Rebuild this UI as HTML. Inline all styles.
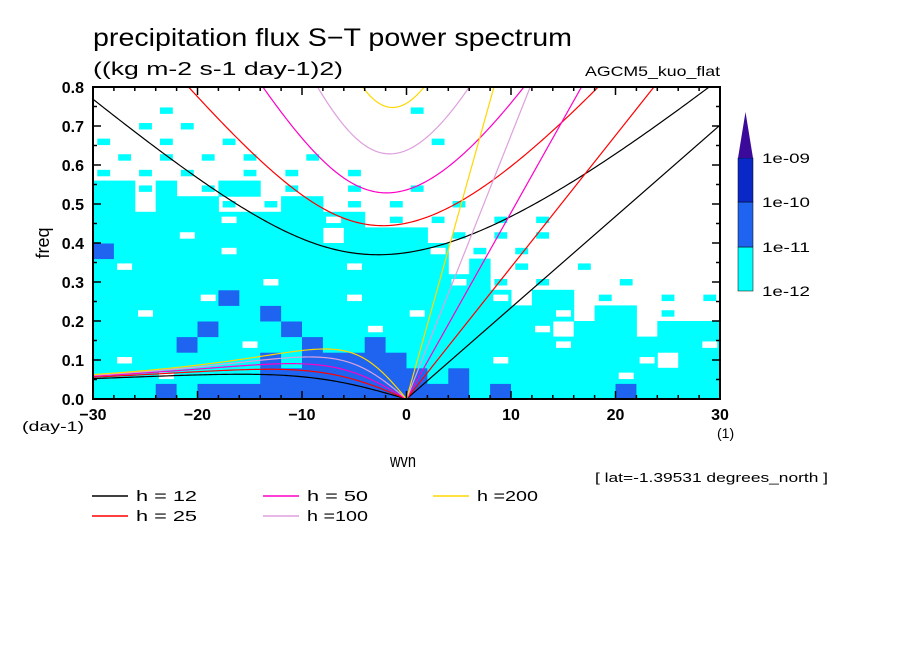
<!DOCTYPE html>
<html><head><meta charset="utf-8"><style>
body{margin:0;background:#fff;}
svg{display:block;font-family:"Liberation Sans","DejaVu Sans",sans-serif;}
</style></head><body>
<svg id="chart" width="904" height="654" viewBox="0 0 904 654">
<rect width="904" height="654" fill="#fff"/>
<text x="93" y="46" font-size="25" textLength="479" lengthAdjust="spacingAndGlyphs">precipitation flux S−T power spectrum</text>
<text x="93" y="75" font-size="18" textLength="250" lengthAdjust="spacingAndGlyphs">((kg m-2 s-1 day-1)2)</text>
<text x="585" y="76" font-size="14" textLength="135" lengthAdjust="spacingAndGlyphs">AGCM5_kuo_flat</text>
<g id="field"></g>
<g id="curves"></g>
<g id="axes"></g>
<text x="390" y="467" font-size="18" textLength="26" lengthAdjust="spacingAndGlyphs">wvn</text>
<text x="0" y="0" font-size="18" text-anchor="middle" transform="translate(49,243) rotate(-90)">freq</text>
<text x="22" y="431" font-size="14" textLength="62" lengthAdjust="spacingAndGlyphs">(day-1)</text>
<text x="717" y="438" font-size="14">(1)</text>
<text x="595" y="482" font-size="13" textLength="233" lengthAdjust="spacingAndGlyphs">[ lat=-1.39531 degrees_north ]</text>
<g id="legend"></g>
<g id="colorbar"></g>
</svg>
<script>
const NS="http://www.w3.org/2000/svg";
// data
const depths=[12,25,50,100,200];
const depthColors=["#000000","#ff0000","#ff00c8","#dda0dd","#ffd700"];
const legendLabels=["h = 12","h = 25","h = 50","h =100","h =200"];
const xTicks=[-30,-20,-10,0,10,20,30];
const yTicks=[0.0,0.1,0.2,0.3,0.4,0.5,0.6,0.7,0.8];
const cbLabels=["1e-12","1e-11","1e-10","1e-09"];
const cbColors=["#00ffff","#1e64f0","#0a28c8","#3c0a9a"];
// power field: rows from freq 0.00 upward, 0.04 per row, 2 wvn per column
// c = cyan, b = blue, d = dark blue, s = small cyan speckle, h = small white hole in cyan
const fieldRows=[
"cccbcbbbbbbbbbbbbbcbcccccbcccc",
"ccchccccbbbbbbbbcbccccccchcccc",
"chccccccbcbbbbbcccchcccccch.cc",
"ccccbcchccbccbcccccccchcccccch",
"cccccbcccbccchccccccch.ccc.ccc",
"cchcccccbcccccchcccccch.cc.s..",
"ccccchbccccchcccccch.cc.s..s.s",
"cccccccchcccccccchcs.s...s....",
"chcccccccccchcccc.c.s..s......",
"bccccchccccccccch.s.s.........",
"cccchcccccc.cccc.s.s.s........",
"cccccchcccchc.s.s..s.s........",
"cc.cccs.scc.s.s..s............",
"ccsc.scc.s..s..s..............",
"s.s.s..s.s..s.................",
".s.s.s.s..s...................",
"s..s..s.........s.............",
"..s.s.........................",
"...s...........s..............",
".............................."];
const fieldFreqStep=0.04, fieldWvnStep=2;

const X0=93,X1=720,Y0=399,Y1=87;
const xs=w=>X0+(w+30)/60*(X1-X0);
const ys=f=>Y0-f/0.8*(Y0-Y1);
function mk(tag,attrs,parent){const e=document.createElementNS(NS,tag);for(const k in attrs)e.setAttribute(k,attrs[k]);parent.appendChild(e);return e;}

const field=document.getElementById('field');
const colMap={c:"#00ffff",s:"#00ffff",h:"#00ffff",b:"#1e64f0",d:"#0a28c8"};
fieldRows.forEach((row,ri)=>{
  for(let ci=0;ci<row.length;ci++){
    const ch=row[ci]; if(!colMap[ch]) continue;
    let xa=xs(-30+ci*fieldWvnStep), xb=xs(-30+(ci+1)*fieldWvnStep);
    let yb=ys(ri*fieldFreqStep), ya=ys(Math.min(0.8,(ri+1)*fieldFreqStep));
    let w=xb-xa+0.5,hh=yb-ya+0.5;
    if(ch==='s'){xa+=w*0.2;ya+=hh*0.3;w*=0.6;hh*=0.4;}
    const r=mk('rect',{x:xa,y:ya,width:w,height:hh,fill:colMap[ch]},field);
    
    
    if(ch==='h'){
      const hole=mk('rect',{x:xa+w*0.15,y:ya+hh*0.3,width:w*0.7,height:hh*0.4,fill:'#fff'},field);
      
      
    }
  }
});

// dispersion curves (Matsuno)
const g=9.8,beta=2.29e-11,a=6.371e6,day=86400;
const curves=document.getElementById('curves');
const cp=mk('clipPath',{id:'pc'},curves);
mk('rect',{x:X0,y:Y1,width:X1-X0,height:Y0-Y1},cp);
function roots(kh,n){const p=-(2*n+1+kh*kh),q=-kh;const m=2*Math.sqrt(-p/3);
  const th=Math.acos(Math.max(-1,Math.min(1,(3*q/(2*p))*Math.sqrt(-3/p))))/3;
  return [0,1,2].map(j=>m*Math.cos(th-2*Math.PI*j/3));}
depths.forEach((h,i)=>{
  const c=Math.sqrt(g*h), ws=Math.sqrt(beta*c)*day/(2*Math.PI), ks=Math.sqrt(beta/c);
  let ig=[],ro=[];
  for(let w=-30;w<=30.001;w+=0.25){
    const kh=(w/a)/ks; const r=roots(kh,1);
    const pos=r.filter(v=>v>0).sort((u,v)=>u-v);
    ig.push([xs(w),ys(pos[pos.length-1]*ws)]);
    if(w<=0){const sm=r.reduce((b,v)=>Math.abs(v)<Math.abs(b)?v:b);ro.push([xs(w),ys(Math.abs(sm)*ws)]);}
  }
  const col=depthColors[i];
  const pIG=mk('polyline',{points:ig.map(p=>p.join(',')).join(' '),fill:'none',stroke:col,'stroke-width':1.2,'clip-path':'url(#pc)'},curves);
  
  
  const pR=mk('polyline',{points:ro.map(p=>p.join(',')).join(' '),fill:'none',stroke:col,'stroke-width':1.2,'clip-path':'url(#pc)'},curves);
  
  
  const kel=c*day/(2*Math.PI*a);
  const pK=mk('line',{x1:xs(0),y1:ys(0),x2:xs(30),y2:ys(30*kel),stroke:col,'stroke-width':1.2,'clip-path':'url(#pc)'},curves);
  
  
});

// axes
const ax=document.getElementById('axes');
const fr=mk('rect',{x:X0,y:Y1,width:X1-X0,height:Y0-Y1,fill:'none',stroke:'#000','stroke-width':2},ax);


for(let w=-30;w<=30;w+=2){const L=(w%10===0)?8:4;
  mk('line',{x1:xs(w),x2:xs(w),y1:Y0,y2:Y0-L,stroke:'#000','stroke-width':1.5},ax);
  mk('line',{x1:xs(w),x2:xs(w),y1:Y1,y2:Y1+L,stroke:'#000','stroke-width':1.5},ax);}
for(let k=0;k<=16;k++){const f=k*0.05,L=(k%2===0)?8:4;
  mk('line',{x1:X0,x2:X0+L,y1:ys(f),y2:ys(f),stroke:'#000','stroke-width':1.5},ax);
  mk('line',{x1:X1,x2:X1-L,y1:ys(f),y2:ys(f),stroke:'#000','stroke-width':1.5},ax);}
xTicks.forEach(w=>{const t=mk('text',{x:xs(w),y:420,'font-size':16,'text-anchor':'middle','font-weight':'bold'},ax);t.textContent=(w<0?'−':'')+Math.abs(w);
  
  });
yTicks.forEach(f=>{const t=mk('text',{x:84,y:ys(f)+6,'font-size':16,'text-anchor':'end','font-weight':'bold'},ax);t.textContent=f.toFixed(1);
  
  });

// legend
const lg=document.getElementById('legend');
const lpos=[[92,496],[92,516],[263,496],[263,516],[433,496]];
legendLabels.forEach((s,i)=>{const [x,y]=lpos[i];
  const gg=mk('g',{},lg);
  
  
  mk('line',{x1:x,x2:x+36,y1:y,y2:y,stroke:depthColors[i],'stroke-width':1.5},gg);
  const t=mk('text',{x:x+44,y:y+5,'font-size':15,textLength:61,lengthAdjust:'spacingAndGlyphs'},gg);t.textContent=s;});

// colorbar
const cb=document.getElementById('colorbar');
const cbx=738,cbw=15,levY=[291,247,202,158];
for(let i=0;i<3;i++){const r=mk('rect',{x:cbx,y:levY[i+1],width:cbw,height:levY[i]-levY[i+1],fill:cbColors[i],stroke:'#000','stroke-width':0.5},cb);
  
  }
const tri=mk('polygon',{points:`${cbx},158 ${cbx+cbw},158 ${cbx+cbw/2},112`,fill:cbColors[3]},cb);


cbLabels.forEach((s,i)=>{const t=mk('text',{x:762,y:levY[i]+5,'font-size':14,textLength:48,lengthAdjust:'spacingAndGlyphs'},cb);t.textContent=s;
  
  });
</script>
</body></html>
